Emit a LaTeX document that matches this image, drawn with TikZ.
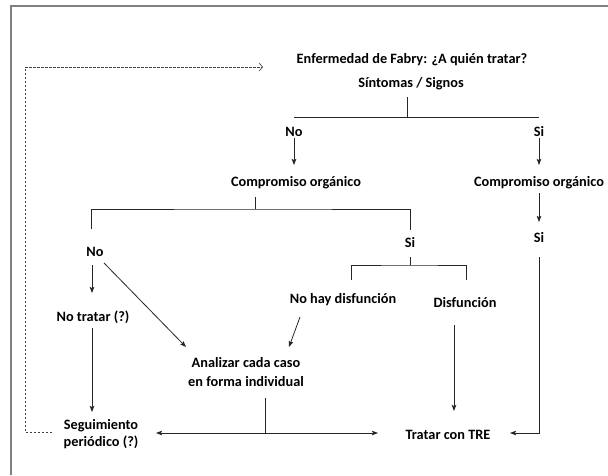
\documentclass[tikz,border=0pt]{standalone}
\usepackage{fontspec}
\setmainfont{Carlito}
\usetikzlibrary{arrows.meta,calc}
\begin{document}
\begin{tikzpicture}[x=1pt,y=-1pt,
  txt/.style={font=\bfseries\fontsize{14.3}{19}\selectfont, inner sep=0pt, text height=10pt, text depth=3pt, align=center},
  ln/.style={draw=black!85, line width=0.8pt},
  arr/.style={ln, -{Stealth[length=6pt,width=4.5pt,inset=1pt]}},
  dsh/.style={draw=black!75, line width=0.6pt, dash pattern=on 2.5pt off 1.5pt, -{Straight Barb[length=3.5pt,width=8pt]}},
  frame/.style={draw=black!50, line width=1.4pt}
]
\fill[white] (0,0) rectangle (608,475);
\useasboundingbox (0,0) rectangle (608,475);
\draw[frame] (11,475) -- (11,6) -- (608,6);

% nodes
\node[txt] (title) at (412,60) {Enfermedad de Fabry: ¿A quién tratar?};
\node[txt] (sint) at (411,84) {Síntomas / Signos};
\node[txt] (no1) at (294,133) {No};
\node[txt] (si1) at (539,133) {Si};
\node[txt] (comp1) at (296,183) {Compromiso orgánico};
\node[txt] (comp2) at (539,183) {Compromiso orgánico};
\node[txt] (no2) at (95,253) {No};
\node[txt] (si2) at (410,244) {Si};
\node[txt] (si3) at (539,239) {Si};
\node[txt] (nohay) at (343,300) {No hay disfunción};
\node[txt] (disf) at (465,304) {Disfunción};
\node[txt] (notratar) at (93,318) {No tratar (?)};
\node[txt] (analizar) at (246,383) {Analizar cada caso\\en forma individual};
\node[txt] (seg) at (101,443) {Seguimiento\\[-2pt]periódico (?)};
\node[txt] (tre) at (448,436) {Tratar con TRE};

% junctions
\coordinate (j1) at (407,117);
\coordinate (j2) at (255,209);
\coordinate (j3) at (410,265);
\coordinate (j4) at (265,433);
\coordinate (dtip) at ($(title)+(-149,7)$);

% top fork
\draw[ln] ($(sint)+(-4,13)$) -- (j1);
\draw[ln] (j1 -| no1) -- (j1 -| si1);
\draw[arr] ($(no1)+(0,5)$) -- ($(no1 |- comp1)+(0,-18)$);
\draw[arr] ($(si1)+(0,5)$) -- ($(si1 |- comp2)+(0,-18)$);

% left compromiso fork
\draw[ln] ($(comp1 -| j2)+(0,14)$) -- (j2);
\draw[ln] ($(no2)+(-4,-24)$) |- (j2) -| ($(si2)+(0,-14)$);

% Si -> sub fork
\draw[ln] ($(si2)+(0,13)$) -- (j3);
\draw[ln] ($(nohay)+(8,-20)$) |- (j3) -| ($(disf)+(1,-24)$);

% right column
\draw[arr] ($(comp2)+(0,10)$) -- ($(si3)+(0,-17)$);
\draw[arr] ($(si3)+(0,18)$) |- ($(tre)+(62,-3)$);

% left branch
\draw[arr] ($(no2)+(-3,12)$) -- ($(notratar)+(-1,-25)$);
\draw[arr] ($(no2)+(9,10)$) -- ($(analizar)+(-60,-36)$);
\draw[arr] ($(notratar)+(-1,10)$) -- ($(seg)+(-9,-31)$);

% middle
\draw[arr] ($(nohay)+(-43,17)$) -- ($(analizar)+(43,-36)$);
\draw[arr] ($(disf)+(-11,21)$) -- ($(tre)+(6,-25)$);

% bottom fork
\draw[ln] ($(analizar)+(19,15)$) -- (j4);
\draw[arr] (j4) -- ($(seg)+(55,-10)$);
\draw[arr] (j4) -- ($(tre)+(-70,-3)$);

% dashed feedback
\draw[dsh] ($(seg)+(-49,-11)$) -- ++(-27,0) |- (dtip);
\end{tikzpicture}
\end{document}
